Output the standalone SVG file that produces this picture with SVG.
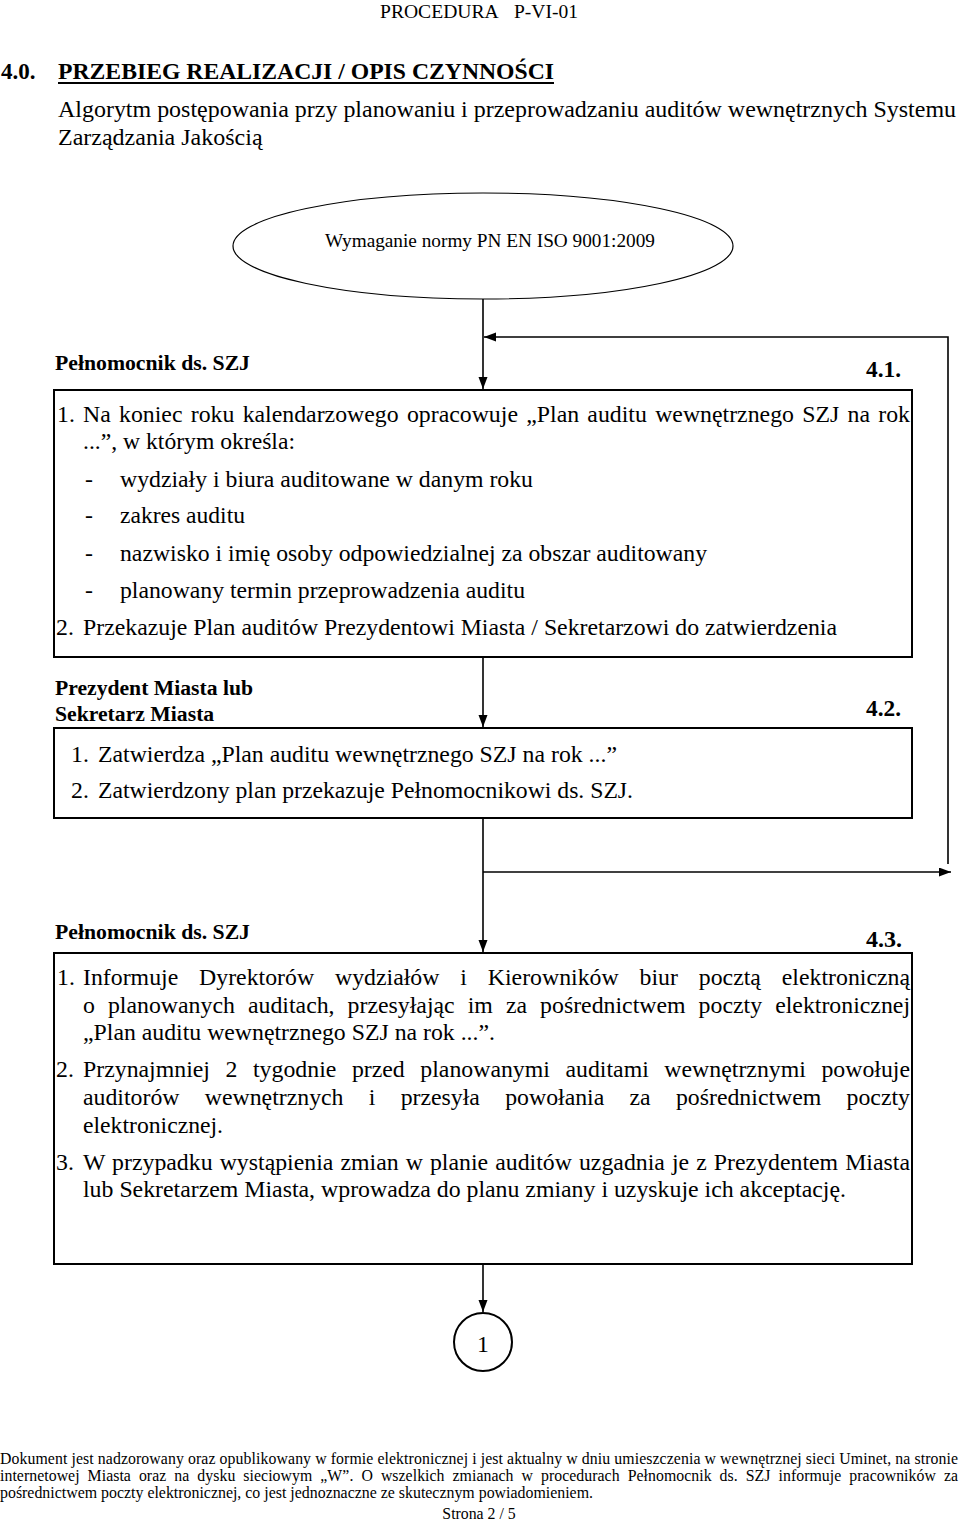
<svg xmlns="http://www.w3.org/2000/svg" width="960" height="1524" viewBox="0 0 960 1524">
<style>
text { font-family: "Liberation Serif", "Times New Roman", serif; fill: #000; }
.t { font-size: 23.8px; }
.b { font-size: 21.7px; font-weight: bold; }
.n { font-size: 23px; font-weight: bold; }
.h { font-size: 23px; font-weight: bold; }
.s { font-size: 19.2px; }
.f { font-size: 15.8px; }
.box { fill: #fff; stroke: #000; stroke-width: 2; }
.conn { fill: none; stroke: #000; stroke-width: 1.6; }
</style>
<defs>
<marker id="arr" markerUnits="userSpaceOnUse" markerWidth="13" markerHeight="10" refX="12" refY="4.5" orient="auto">
<path d="M0,0 L12,4.5 L0,9 z" fill="#000"/>
</marker>
</defs>
<rect width="960" height="1524" fill="#fff"/>

<g id="header">
<text class="s" x="380" y="18" style="font-size:19.6px">PROCEDURA</text>
<text class="s" x="514" y="18" style="font-size:19.6px" textLength="64" lengthAdjust="spacingAndGlyphs">P-VI-01</text>
<text class="h" x="1" y="79">4.0.</text>
<text class="h" x="58" y="79" textLength="496" lengthAdjust="spacingAndGlyphs">PRZEBIEG REALIZACJI / OPIS CZYNNOŚCI</text>
<line x1="58" y1="83" x2="554" y2="83" stroke="#000" stroke-width="2"/>
<text class="t" x="58" y="117" style="font-size:24px" textLength="898" lengthAdjust="spacingAndGlyphs">Algorytm postępowania przy planowaniu i przeprowadzaniu auditów wewnętrznych Systemu</text>
<text class="t" x="58" y="145" style="font-size:24px">Zarządzania Jakością</text>
</g>

<g id="connectors">
<line class="conn" x1="483" y1="299" x2="483" y2="389" marker-end="url(#arr)"/>
<polyline class="conn" points="948,864 948,337 484,337" marker-end="url(#arr)"/>
<line class="conn" x1="483" y1="657" x2="483" y2="727" marker-end="url(#arr)"/>
<line class="conn" x1="483" y1="818" x2="483" y2="952" marker-end="url(#arr)"/>
<line class="conn" x1="483" y1="872" x2="951" y2="872" marker-end="url(#arr)"/>
<line class="conn" x1="483" y1="1264" x2="483" y2="1312" marker-end="url(#arr)"/>
</g>

<g id="node-start">
<ellipse cx="483" cy="246" rx="250" ry="53" fill="#fff" stroke="#000" stroke-width="1.2"/>
<text class="s" x="325" y="247" textLength="330" lengthAdjust="spacingAndGlyphs">Wymaganie normy PN EN ISO 9001:2009</text>
</g>

<g id="node-4-1">
<text class="b" x="55" y="370" textLength="195" lengthAdjust="spacingAndGlyphs">Pełnomocnik ds. SZJ</text>
<text class="n" x="866" y="377" textLength="35" lengthAdjust="spacingAndGlyphs">4.1.</text>
<rect class="box" x="54" y="390" width="858" height="267"/>
<text class="t" x="57" y="422">1.</text>
<text class="t" x="83" y="422" word-spacing="2.3" textLength="827" lengthAdjust="spacing">Na koniec roku kalendarzowego opracowuje „Plan auditu wewnętrznego SZJ na rok</text>
<text class="t" x="83" y="449" textLength="212" lengthAdjust="spacingAndGlyphs">...”, w którym określa:</text>
<text class="t" x="85" y="487">-</text>
<text class="t" x="120" y="487" textLength="413" lengthAdjust="spacingAndGlyphs">wydziały i biura auditowane w danym roku</text>
<text class="t" x="85" y="523">-</text>
<text class="t" x="120" y="523" textLength="125" lengthAdjust="spacingAndGlyphs">zakres auditu</text>
<text class="t" x="85" y="561">-</text>
<text class="t" x="120" y="561" textLength="587" lengthAdjust="spacingAndGlyphs">nazwisko i imię osoby odpowiedzialnej za obszar auditowany</text>
<text class="t" x="85" y="598">-</text>
<text class="t" x="120" y="598" textLength="405" lengthAdjust="spacingAndGlyphs">planowany termin przeprowadzenia auditu</text>
<text class="t" x="56" y="635">2.</text>
<text class="t" x="83" y="635" textLength="754" lengthAdjust="spacingAndGlyphs">Przekazuje Plan auditów Prezydentowi Miasta / Sekretarzowi do zatwierdzenia</text>
</g>

<g id="node-4-2">
<text class="b" x="55" y="695" textLength="198" lengthAdjust="spacingAndGlyphs">Prezydent Miasta lub</text>
<text class="b" x="55" y="721">Sekretarz Miasta</text>
<text class="n" x="866" y="716" textLength="35" lengthAdjust="spacingAndGlyphs">4.2.</text>
<rect class="box" x="54" y="728" width="858" height="90"/>
<text class="t" x="71" y="762">1.</text>
<text class="t" x="98" y="762" textLength="519" lengthAdjust="spacingAndGlyphs">Zatwierdza „Plan auditu wewnętrznego SZJ na rok ...”</text>
<text class="t" x="71" y="798">2.</text>
<text class="t" x="98" y="798" textLength="535" lengthAdjust="spacingAndGlyphs">Zatwierdzony plan przekazuje Pełnomocnikowi ds. SZJ.</text>
</g>

<g id="node-4-3">
<text class="b" x="55" y="939" textLength="195" lengthAdjust="spacingAndGlyphs">Pełnomocnik ds. SZJ</text>
<text class="n" x="866" y="947" textLength="36" lengthAdjust="spacingAndGlyphs">4.3.</text>
<rect class="box" x="54" y="953" width="858" height="311"/>
<text class="t" x="57" y="985">1.</text>
<text class="t" x="83" y="985" word-spacing="14.9" textLength="827" lengthAdjust="spacing">Informuje Dyrektorów wydziałów i Kierowników biur pocztą elektroniczną</text>
<text class="t" x="83" y="1013" word-spacing="7.1" textLength="827" lengthAdjust="spacing">o planowanych auditach, przesyłając im za pośrednictwem poczty elektronicznej</text>
<text class="t" x="83" y="1040" textLength="412" lengthAdjust="spacingAndGlyphs">„Plan auditu wewnętrznego SZJ na rok ...”.</text>
<text class="t" x="56" y="1077">2.</text>
<text class="t" x="83" y="1077" word-spacing="9.6" textLength="827" lengthAdjust="spacing">Przynajmniej 2 tygodnie przed planowanymi auditami wewnętrznymi powołuje</text>
<text class="t" x="83" y="1105" word-spacing="19.3" textLength="827" lengthAdjust="spacing">auditorów wewnętrznych i przesyła powołania za pośrednictwem poczty</text>
<text class="t" x="83" y="1133" textLength="140" lengthAdjust="spacingAndGlyphs">elektronicznej.</text>
<text class="t" x="56" y="1170">3.</text>
<text class="t" x="83" y="1170" word-spacing="1.1" textLength="827" lengthAdjust="spacing">W przypadku wystąpienia zmian w planie auditów uzgadnia je z Prezydentem Miasta</text>
<text class="t" x="83" y="1197" textLength="763" lengthAdjust="spacingAndGlyphs">lub Sekretarzem Miasta, wprowadza do planu zmiany i uzyskuje ich akceptację.</text>
</g>

<g id="node-connector-1">
<circle cx="483" cy="1342" r="29" fill="#fff" stroke="#000" stroke-width="2"/>
<text class="t" x="483" y="1352" text-anchor="middle">1</text>
</g>

<g id="footer">
<text class="f" x="0" y="1464" textLength="958" lengthAdjust="spacing">Dokument jest nadzorowany oraz opublikowany w formie elektronicznej i jest aktualny w dniu umieszczenia w wewnętrznej sieci  Uminet, na stronie</text>
<text class="f" x="0" y="1481" textLength="958" lengthAdjust="spacing" word-spacing="4">internetowej Miasta oraz na dysku sieciowym „W”. O wszelkich zmianach w procedurach Pełnomocnik ds. SZJ informuje pracowników za</text>
<text class="f" x="0" y="1498" textLength="593" lengthAdjust="spacingAndGlyphs">pośrednictwem poczty elektronicznej, co jest jednoznaczne ze skutecznym powiadomieniem.</text>
<text class="f" x="479" y="1519" text-anchor="middle">Strona 2 / 5</text>
</g>
</svg>
